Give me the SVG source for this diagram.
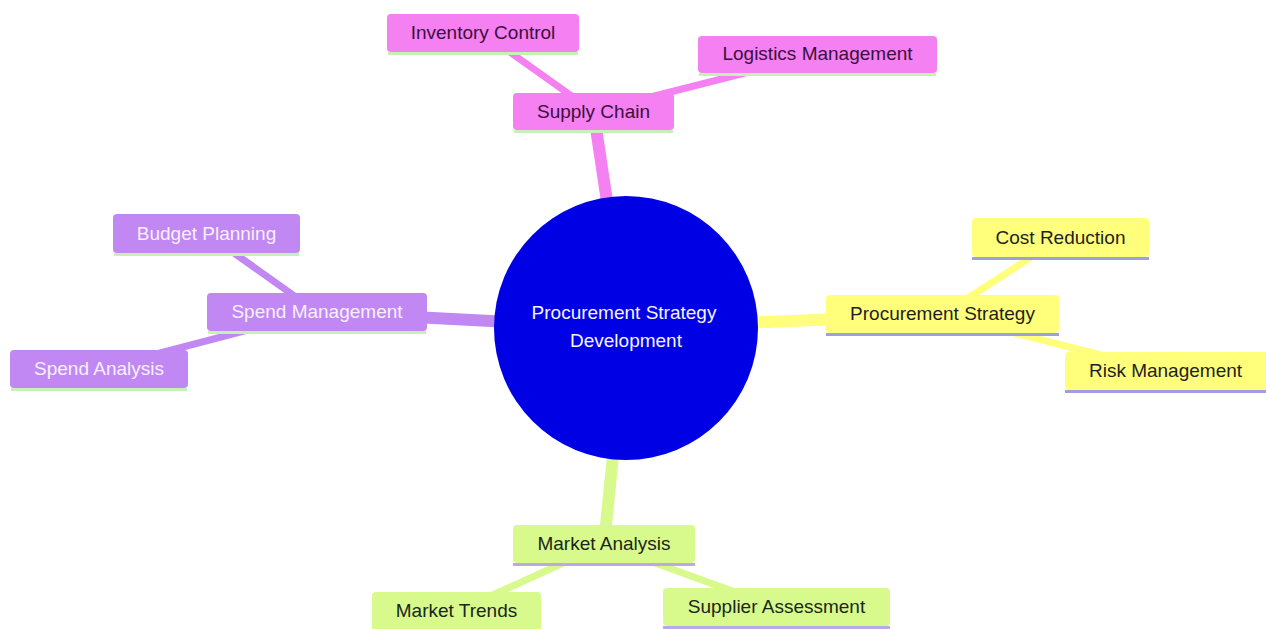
<svg xmlns="http://www.w3.org/2000/svg" width="1266" height="629" viewBox="0 0 1266 629">
<style>
text{font-family:"Liberation Sans",Arial,sans-serif;font-size:19px;text-anchor:middle}
.e{fill:none;stroke-linecap:butt}
.d1{stroke-width:12}
.d2{stroke-width:7}
.pk{fill:#f580f2}.pks{stroke:#f580f2}
.pu{fill:#c188f4}.pus{stroke:#c188f4}
.ye{fill:#ffff7c}.yes{stroke:#ffff7c}
.gr{fill:#d8fa8c}.grs{stroke:#d8fa8c}
.lg{stroke:#c6f0b6;stroke-width:3}
.lv{stroke:#9f9fe0;stroke-width:3}
.lv2{stroke:#b9a9e6;stroke-width:3}
.tpk{fill:#3c0f3c}.tpu{fill:#f6f0ff}.tye{fill:#1e1e1e}.tgr{fill:#1a261a}
</style>
<rect width="1266" height="629" fill="#ffffff"/>
<g id="connectors">
<line class="e d1 pks" x1="626" y1="328" x2="593.5" y2="111.5"/>
<line class="e d2 pks" x1="593.5" y1="111.5" x2="483" y2="33"/>
<line class="e d2 pks" x1="593.5" y1="111.5" x2="817.5" y2="54.5"/>
<line class="e d1 pus" x1="626" y1="328" x2="317" y2="312"/>
<line class="e d2 pus" x1="317" y1="312" x2="206.5" y2="233.5"/>
<line class="e d2 pus" x1="317" y1="312" x2="99" y2="369"/>
<line class="e d1 yes" x1="626" y1="328" x2="942.5" y2="314.5"/>
<line class="e d2 yes" x1="942.5" y1="314.5" x2="1060.5" y2="238"/>
<line class="e d2 yes" x1="942.5" y1="314.5" x2="1165.5" y2="371.5"/>
<line class="e d1 grs" x1="626" y1="328" x2="604" y2="544.5"/>
<line class="e d2 grs" x1="604" y1="544.5" x2="456.5" y2="611.5"/>
<line class="e d2 grs" x1="604" y1="544.5" x2="776.5" y2="607"/>
</g>
<g id="root">
<circle cx="626" cy="328" r="132" fill="#0000e4"/>
<text x="624" y="319" fill="#f4f4ff">Procurement Strategy</text>
<text x="626" y="347" fill="#f4f4ff">Development</text>
</g>
<g id="supply-chain">
<rect class="pk" x="513" y="93" width="161" height="37" rx="4"/>
<line class="lg" x1="514" y1="131.5" x2="673" y2="131.5"/>
<text class="tpk" x="593.5" y="117.5">Supply Chain</text>
</g>
<g id="inventory-control">
<rect class="pk" x="387" y="14" width="192" height="38" rx="4"/>
<line class="lg" x1="388" y1="53.5" x2="578" y2="53.5"/>
<text class="tpk" x="483" y="39">Inventory Control</text>
</g>
<g id="logistics-management">
<rect class="pk" x="698" y="36" width="239" height="37" rx="4"/>
<line class="lg" x1="699" y1="74.5" x2="936" y2="74.5"/>
<text class="tpk" x="817.5" y="60">Logistics Management</text>
</g>
<g id="spend-management">
<rect class="pu" x="207" y="293" width="220" height="38" rx="4"/>
<line class="lg" x1="208" y1="332.5" x2="426" y2="332.5"/>
<text class="tpu" x="317" y="318">Spend Management</text>
</g>
<g id="budget-planning">
<rect class="pu" x="113" y="214" width="187" height="39" rx="4"/>
<line class="lg" x1="114" y1="254.5" x2="299" y2="254.5"/>
<text class="tpu" x="206.5" y="239.5">Budget Planning</text>
</g>
<g id="spend-analysis">
<rect class="pu" x="10" y="350" width="178" height="38" rx="4"/>
<line class="lg" x1="11" y1="389.5" x2="187" y2="389.5"/>
<text class="tpu" x="99" y="375">Spend Analysis</text>
</g>
<g id="procurement-strategy">
<rect class="ye" x="826" y="295" width="233" height="38" rx="4"/>
<line class="lv" x1="826" y1="334.5" x2="1059" y2="334.5"/>
<text class="tye" x="942.5" y="320">Procurement Strategy</text>
</g>
<g id="cost-reduction">
<rect class="ye" x="972" y="218" width="177" height="39" rx="4"/>
<line class="lv" x1="972" y1="258.5" x2="1149" y2="258.5"/>
<text class="tye" x="1060.5" y="243.5">Cost Reduction</text>
</g>
<g id="risk-management">
<rect class="ye" x="1065" y="352" width="204" height="38" rx="4"/>
<line class="lv" x1="1065" y1="391.5" x2="1266" y2="391.5"/>
<text class="tye" x="1165.5" y="377">Risk Management</text>
</g>
<g id="market-analysis">
<rect class="gr" x="513" y="525" width="182" height="38" rx="4"/>
<line class="lv2" x1="513" y1="564.5" x2="695" y2="564.5"/>
<text class="tgr" x="604" y="550">Market Analysis</text>
</g>
<g id="market-trends">
<rect class="gr" x="372" y="592" width="169" height="39" rx="4"/>
<text class="tgr" x="456.5" y="617">Market Trends</text>
</g>
<g id="supplier-assessment">
<rect class="gr" x="663" y="588" width="227" height="38" rx="4"/>
<line class="lv2" x1="663" y1="627.5" x2="890" y2="627.5"/>
<text class="tgr" x="776.5" y="613">Supplier Assessment</text>
</g>
</svg>
